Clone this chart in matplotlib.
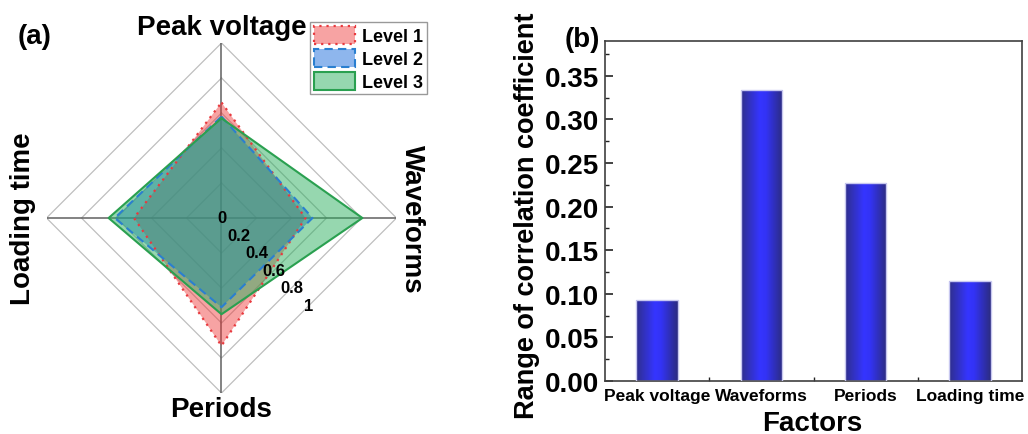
import numpy as np
import matplotlib
matplotlib.use("Agg")
import matplotlib.pyplot as plt
from matplotlib.patches import Patch
from matplotlib.colors import LinearSegmentedColormap

plt.rcParams['font.family'] = ['Liberation Sans', 'DejaVu Sans']
plt.rcParams['font.weight'] = 'bold'

# ---------------- data ----------------
factors = ["Peak voltage", "Waveforms", "Periods", "Loading time"]
level1 = [0.66, 0.48, 0.73, 0.50]
level2 = [0.58, 0.52, 0.51, 0.61]
level3 = [0.57, 0.805, 0.55, 0.645]
level_names = ["Level 1", "Level 2", "Level 3"]
ring_values = [0.2, 0.4, 0.6, 0.8, 1.0]
ring_labels = ["0", "0.2", "0.4", "0.6", "0.8", "1"]

range_values = [0.093, 0.334, 0.227, 0.115]
yticks_b = [0.00, 0.05, 0.10, 0.15, 0.20, 0.25, 0.30, 0.35]

W, H = 1028, 435
fig = plt.figure(figsize=(W / 100, H / 100), dpi=100)

# ---------------- (a) radar ----------------
axr = fig.add_axes([46.5 / W, (H - 394) / H, 350 / W, 350 / H])
axr.set_xlim(-1, 1)
axr.set_ylim(-1, 1)
axr.set_aspect('equal')
axr.axis('off')

angles = np.deg2rad([90, 0, -90, 180])  # clockwise from top

def xy(vals):
    v = np.asarray(vals, dtype=float)
    x = v * np.cos(angles)
    y = v * np.sin(angles)
    return np.append(x, x[0]), np.append(y, y[0])

for r in ring_values:
    x, y = xy([r] * 4)
    axr.plot(x, y, color='#BFBFBF', lw=0.9, zorder=1)
for a in angles:
    axr.plot([0, np.cos(a)], [0, np.sin(a)], color='#606060', lw=1.1, zorder=1)

styles = [
    dict(face='#EE3333', alpha=0.45, edge='#E83A3F', ls=(0, (1, 2.2)), lw=1.6),
    dict(face='#1E6FDC', alpha=0.5, edge='#2A7FD0', ls=(0, (4, 2.5)), lw=1.5),
    dict(face='#2EB060', alpha=0.5, edge='#2AA050', ls='-', lw=1.5),
]
handles = []
for vals, st, name in zip([level1, level2, level3], styles, level_names):
    x, y = xy(vals)
    axr.fill(x, y, color=st['face'], alpha=st['alpha'], lw=0, zorder=2)
    axr.plot(x, y, color=st['edge'], ls=st['ls'], lw=st['lw'], zorder=3)
    handles.append(Patch(facecolor=matplotlib.colors.to_rgba(st['face'], st['alpha']),
                         edgecolor=st['edge'], linestyle=st['ls'], linewidth=st['lw'],
                         label=name))

for val, lab in zip([0.0] + ring_values, ring_labels):
    axr.text(val / 2, -val / 2, lab, ha='center', va='center', fontsize=12,
             fontweight='bold', zorder=5)

lab_kw = dict(fontsize=20, fontweight='bold', ha='center', va='center', clip_on=False)
axr.text(0, 1.09, factors[0], **lab_kw)
axr.text(1.09, 0, factors[1], rotation=-90, **lab_kw)
axr.text(0, -1.09, factors[2], **lab_kw)
axr.text(-1.135, 0, factors[3], rotation=90, **lab_kw)

fig.text(35 / W, 1 - 37 / H, "(a)", fontsize=20, fontweight='bold', ha='center', va='center')

leg = fig.legend(handles=handles, loc='upper left', bbox_to_anchor=(310 / W, 1 - 23 / H),
                 borderaxespad=0, frameon=True, fancybox=False,
                 handlelength=2.3, handleheight=1.15, handletextpad=0.4,
                 labelspacing=0.22, borderpad=0.2, prop={'weight': 'bold', 'size': 13})
leg.get_frame().set_edgecolor('#808080')
leg.get_frame().set_linewidth(1.0)

# ---------------- (b) bars ----------------
axb = fig.add_axes([605 / W, (H - 382) / H, (1022 - 605) / W, (382 - 42) / H])
xpos = np.arange(1, len(factors) + 1)
bars = axb.bar(xpos, range_values, width=0.4, color='none', edgecolor='#C8C8F0',
               linewidth=1.0, zorder=3)
cmap = LinearSegmentedColormap.from_list('bg', [(0, '#2F2F8C'), (0.45, '#3535FF'),
                                                 (0.6, '#3333F5'), (1, '#2C2C80')])
grad = np.linspace(0, 1, 256).reshape(1, -1)
for b in bars:
    x0, y0 = b.get_x(), b.get_y()
    im = axb.imshow(grad, cmap=cmap, aspect='auto', zorder=2,
                    extent=[x0, x0 + b.get_width(), y0, y0 + b.get_height()])
    im.set_clip_path(b)

axb.set_xlim(0.5, 4.5)
axb.set_ylim(0, 0.39)
axb.set_xticks(xpos)
axb.set_xticklabels(factors, fontsize=12.5, fontweight='bold')
axb.set_xticks([1.5, 2.5, 3.5], minor=True)
axb.set_yticks(yticks_b)
axb.set_yticklabels([f"{v:.2f}" for v in yticks_b], fontsize=20, fontweight='bold')
axb.set_yticks(np.arange(0.025, 0.39, 0.05), minor=True)
axb.tick_params(axis='both', which='major', direction='in', length=6, width=1.2,
                color='#222222', pad=4)
axb.tick_params(axis='both', which='minor', direction='in', length=3, width=1.0,
                color='#222222')
axb.tick_params(axis='x', which='major', pad=5)
for s in axb.spines.values():
    s.set_color('#404040')
    s.set_linewidth(1.2)

fig.text(527 / W, 1 - 216 / H, "Range of correlation coefficient", rotation=90,
         fontsize=19.5, fontweight='bold', ha='center', va='center')
fig.text(812 / W, 1 - 424 / H, "Factors", fontsize=20, fontweight='bold',
         ha='center', va='center')
fig.text(582 / W, 1 - 40 / H, "(b)", fontsize=20, fontweight='bold', ha='center', va='center')

fig.savefig("out.png", dpi=100)
